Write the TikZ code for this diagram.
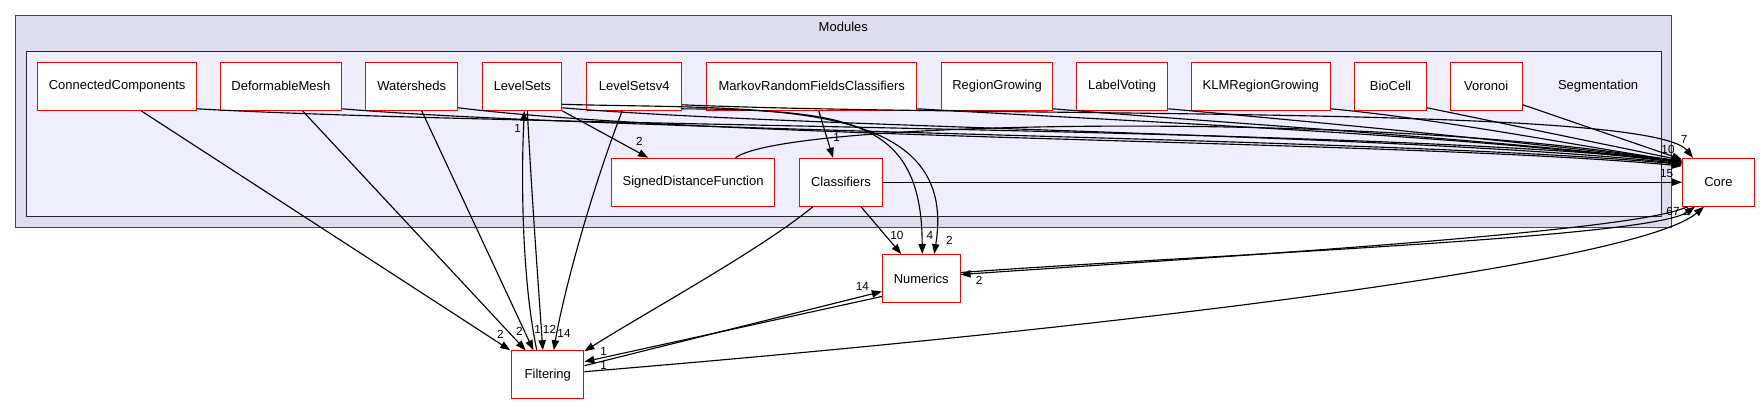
\documentclass[tikz,border=0pt]{standalone}
\usepackage{fontspec}
\setmainfont{Liberation Sans}
\usetikzlibrary{arrows.meta,calc}
\definecolor{outerfill}{HTML}{DDDDEE}
\definecolor{innerfill}{HTML}{EEEEFF}
\definecolor{outerdraw}{HTML}{444444}
\definecolor{nodered}{HTML}{FF0000}
\begin{document}
\begin{tikzpicture}[x=0.75pt,y=-0.75pt,
  box/.style={draw=nodered,fill=white,line width=0.75pt,inner sep=0pt,minimum height=36pt,font=\fontsize{9.75}{11}\selectfont},
  e/.style={draw=black,line width=0.85pt,-{Triangle[length=7.5pt,width=5.5pt]}},
  lbl/.style={inner sep=0pt,font=\fontsize{8.8}{9.5}\selectfont},
  clab/.style={inner sep=0pt,font=\fontsize{9.75}{11}\selectfont}]
\useasboundingbox (0,0) rectangle (1760,404);
\fill[white] (0,0) rectangle (1760,404);
% clusters
\draw[fill=outerfill,draw=outerdraw,line width=1.1pt] (15.3,15.7) rectangle (1671.6,227.7);
\draw[fill=innerfill,draw=black!85,line width=0.9pt] (26.4,51.7) rectangle (1661.5,216.7);
\node[clab] (modlab) at (843.3,27.3) {Modules};
\node[clab] (seglab) at (1598.1,86.3) {Segmentation};
% nodes
\node[box,minimum width=118.8pt] (CC) at (117.1,86.3) {ConnectedComponents};
\node[box,minimum width=90.7pt] (DM) at (280.9,86.3) {DeformableMesh};
\node[box,minimum width=68.9pt] (WS) at (411.7,86.3) {Watersheds};
\node[box,minimum width=59.1pt] (LS) at (522.3,86.3) {LevelSets};
\node[box,minimum width=70.9pt] (LS4) at (634.2,86.3) {LevelSetsv4};
\node[box,minimum width=157.1pt] (MRFC) at (811.7,86.3) {MarkovRandomFieldsClassifiers};
\node[box,minimum width=82.7pt] (RG) at (997.1,86.3) {RegionGrowing};
\node[box,minimum width=68.3pt] (LV) at (1122.2,86.3) {LabelVoting};
\node[box,minimum width=104.2pt] (KLM) at (1260.8,86.3) {KLMRegionGrowing};
\node[box,minimum width=54.2pt] (BC) at (1390.5,86.3) {BioCell};
\node[box,minimum width=54.3pt] (VOR) at (1486.2,86.3) {Voronoi};
\node[box,minimum width=122.6pt] (SDF) at (693.1,182.2) {SignedDistanceFunction};
\node[box,minimum width=62.6pt] (CL) at (841,182.2) {Classifiers};
\node[box,minimum width=53.9pt] (Core) at (1718.4,182.2) {Core};
\node[box,minimum width=58.3pt] (Num) at (921.2,278.5) {Numerics};
\node[box,minimum width=54.2pt] (Filt) at (547.8,374.7) {Filtering};
% edges into Core from the first row
\draw[e] ($(CC.south east)+(0,-2)$) .. controls (520,127) and (1400,128) .. (Core.151);
\draw[e] ($(DM.south east)+(0,-2)$) .. controls (620,132) and (1400,138) .. (Core.154);
\draw[e] ($(WS.south east)+(0,-3)$) .. controls (720,140) and (1400,140) .. (Core.156);
\draw[e] ($(LS.south east)+(0,-3)$) .. controls (800,128) and (1400,134) .. (Core.153);
\draw[e] ($(LS4.south east)+(0,-6)$) .. controls (1000,118) and (1650,105) .. ($(Core.north west)+(11,0)$);
\draw[e] ($(MRFC.south east)+(0,-2)$) .. controls (1200,125) and (1450,135) .. (Core.152);
\draw[e] ($(RG.south east)+(0,-2)$) .. controls (1250,125) and (1500,140) .. (Core.151);
\draw[e] ($(LV.south east)+(0,-2)$) .. controls (1350,125) and (1550,145) .. (Core.150);
\draw[e] ($(KLM.south east)+(0,-2)$) .. controls (1450,120) and (1600,150) .. (Core.150);
\draw[e] ($(BC.south east)+(0,-3)$) -- (Core.149);
\draw[e] ($(VOR.south east)+(0,-6)$) -- (Core.148);
\draw[e] (SDF.30) .. controls (790,118) and (1400,112) .. (Core.152);
\draw[e] (CL.east) -- (Core.west);
% edges into Filtering
\draw[e] ($(CC.south)+(24,0)$) -- ($(Filt.north west)+(-1,0)$);
\draw[e] ($(DM.south)+(21.6,0)$) -- ($(Filt.north west)+(14.4,0)$);
\draw[e] ($(WS.south)+(10,0)$) -- ($(Filt.north west)+(22.2,0)$);
\draw[e] ($(LS.south)+(5,0)$) .. controls (532,200) and (538,280) .. ($(Filt.north)+(-5,0)$);
\draw[e] ($(Filt.north)+(-11,0)$) .. controls (522,280) and (521,180) .. ($(LS.south)+(2,0)$);
\draw[e] ($(LS4.south)+(-12,0)$) .. controls (588,200) and (562,300) .. ($(Filt.north)+(6,0)$);
\draw[e] ($(CL.south)+(-28,0)$) .. controls (760,250) and (650,310) .. ($(Filt.north east)+(0,1)$);
% Classifiers and related
\draw[e] ($(MRFC.south)+(7,0)$) -- ($(CL.north)+(-8,0)$);
\draw[e] ($(LS.south east)+(0,0)$) -- ($(SDF.north)+(-45,0)$);
\draw[e] ($(CL.south)+(20,0)$) -- ($(Num.north)+(-20,0)$);
\draw[e] ($(LS.east)+(0,18)$) .. controls (760,110) and (960,95) .. ($(Num.north)+(13,0)$);
\draw[e] ($(LS4.south east)+(0,-2)$) .. controls (850,110) and (922,120) .. ($(Num.north)+(1,0)$);
% Filtering, Numerics, Core
\draw[e] ($(Filt.east)+(0,-9)$) -- ($(Num.west)+(0,13)$);
\draw[e] ($(Num.west)+(0,18)$) -- ($(Filt.east)+(0,-13)$);
\draw[e] ($(Filt.east)+(0,-3)$) .. controls (1150,325) and (1640,262) .. ($(Core.south west)+(22,0)$);
\draw[e] ($(Num.east)+(0,-6)$) .. controls (1200,255) and (1650,238) .. ($(Core.south west)+(13,0)$);
\draw[e] ($(Core.south west)+(5,0)$) .. controls (1640,232) and (1200,258) .. ($(Num.east)+(0,-4)$);
% labels
\node[lbl] (t1) at (500.5,334) {2};
\node[lbl] (t2) at (519.3,331) {2};
\node[lbl] (t3) at (537.6,329) {1};
\node[lbl] (t4) at (549.5,329) {12};
\node[lbl] (t5) at (564,333) {14};
\node[lbl] (t6) at (517.7,128.3) {1};
\node[lbl] (t7) at (639.3,141.7) {2};
\node[lbl] (t8) at (836.7,137.7) {1};
\node[lbl] (t9) at (896.8,235) {10};
\node[lbl] (t10) at (930,235) {4};
\node[lbl] (t11) at (949.3,240.7) {2};
\node[lbl] (t12) at (862.4,286.7) {14};
\node[lbl] (t13) at (603.7,351) {1};
\node[lbl] (t14) at (603.7,365) {1};
\node[lbl] (t15) at (979.1,280.7) {2};
\node[lbl] (t16) at (1666.7,173.3) {15};
\node[lbl] (t17) at (1684,139.3) {7};
\node[lbl] (t18) at (1668,149.3) {10};
\node[lbl] (t21) at (1673,211) {67};
\node[lbl] (t22) at (1686,211) {2};
\end{tikzpicture}
\end{document}
